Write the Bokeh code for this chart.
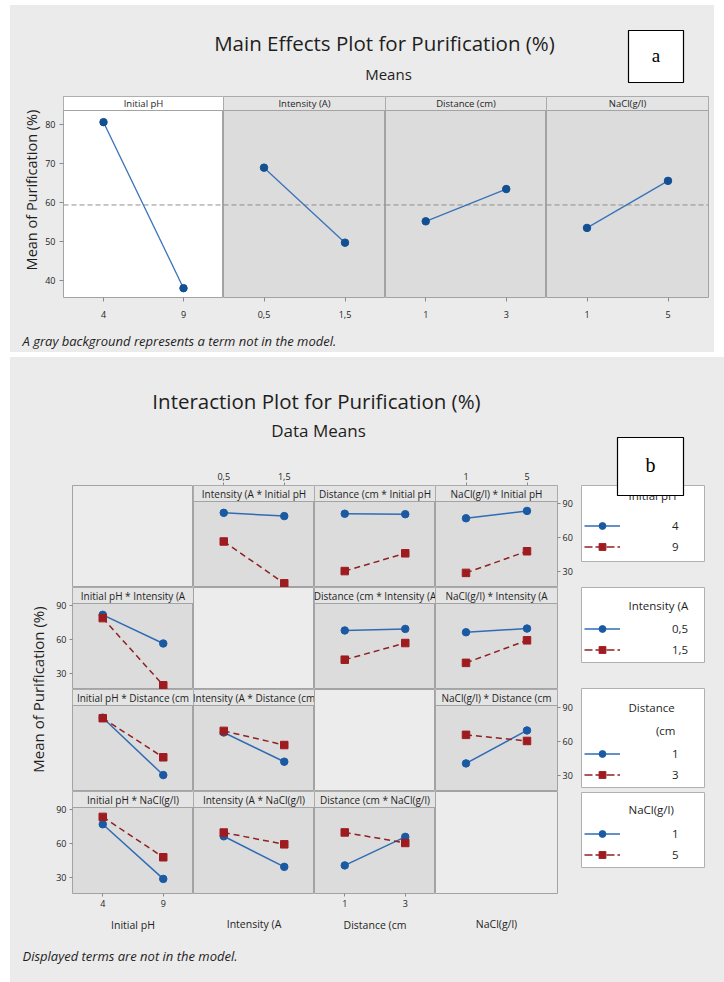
import math
import numpy as np
from bokeh.plotting import figure
from bokeh.layouts import row, column
from bokeh.models import (Range1d, LinearAxis, FixedTicker, CustomJSTickFormatter,
                          Span, BoxAnnotation, Label, Legend, LegendItem, Spacer)
from bokeh.core.properties import value
from bokeh.embed import file_html
from bokeh.resources import INLINE

# ---------------- data ----------------
main_names = ["Initial pH", "Intensity (A)", "Distance (cm)", "NaCl(g/l)"]
inter_names = ["Initial pH", "Intensity (A", "Distance (cm", "NaCl(g/l)"]
ph_levels = [4, 9]
intensity_levels = [0.5, 1.5]
distance_levels = [1, 3]
nacl_levels = [1, 5]

main_ph = [80.7, 38.0]
main_intensity = [69.0, 49.7]
main_distance = [55.2, 63.5]
main_nacl = [53.5, 65.6]
grand_mean = 59.4
main_yticks = [40, 50, 60, 70, 80]

# two-factor cell means: rows = levels of first factor, cols = levels of second factor
ph_by_intensity = [[81.8, 78.9], [56.5, 19.6]]
ph_by_distance = [[81.0, 80.6], [30.4, 46.1]]
ph_by_nacl = [[77.0, 83.5], [28.8, 47.9]]
intensity_by_distance = [[68.0, 69.4], [42.2, 56.9]]
intensity_by_nacl = [[66.4, 69.7], [39.4, 59.3]]
distance_by_nacl = [[40.7, 69.8], [65.9, 60.5]]
inter_yticks = [30, 60, 90]

legend_labels = [["4", "9"], ["0,5", "1,5"], ["1", "3"], ["1", "5"]]

levels = [ph_levels, intensity_levels, distance_levels, nacl_levels]
main_means = [main_ph, main_intensity, main_distance, main_nacl]
pair_tables = {(0, 1): ph_by_intensity, (0, 2): ph_by_distance, (0, 3): ph_by_nacl,
               (1, 2): intensity_by_distance, (1, 3): intensity_by_nacl,
               (2, 3): distance_by_nacl}

# ---------------- style ----------------
FONT = "Open Sans"
SERIF = "Liberation Serif"
TEXT = "#1e1e1e"
SEC_BG = "#ebebeb"
PANEL_GRAY = "#dcdcdc"
STRIP_GRAY = "#e4e4e4"
EMPTY_BG = "#ececec"
FRAME_LINE = "#a3a3a3"
TICK = "#8a8a8a"
MEAN_LINE = "#8f8f8f"
ME_LINE = "#3a72b8"
ME_PT = "#124f93"
BLUE_LINE = "#2f6cb4"
BLUE_PT = "#1b5aa3"
RED_LINE = "#8e2222"
RED_PT = "#9e1c20"


def comma_fmt():
    return CustomJSTickFormatter(code="return String(tick).replace('.', ',');")


def base_fig(w, h, xr, yr, left=0, right=0, top=0, bottom=0, bg=SEC_BG):
    p = figure(width=w, height=h, x_range=xr, y_range=yr,
               toolbar_location=None, output_backend="svg",
               x_axis_location=None, y_axis_location=None,
               min_border_left=left, min_border_right=right,
               min_border_top=top, min_border_bottom=bottom)
    p.grid.visible = False
    p.border_fill_color = SEC_BG
    p.background_fill_color = bg
    p.outline_line_color = None
    return p


def text_label(p, x, y, text, size, align="center", style="normal", color=TEXT,
               font=FONT, angle=0.0):
    p.add_layout(Label(x=x, y=y, text=text, text_font=font, text_font_size=size,
                       text_font_style=style, text_color=color, text_align=align,
                       text_baseline="middle", angle=angle))


def style_axis(ax, size="9px", tick_out=3, standoff=3):
    ax.major_label_text_font = FONT
    ax.major_label_text_font_size = size
    ax.major_label_text_color = TEXT
    ax.major_tick_in = 0
    ax.major_tick_out = tick_out
    ax.major_tick_line_color = TICK
    ax.minor_tick_line_color = None
    ax.axis_line_color = None
    ax.major_label_standoff = standoff
    ax.axis_label_text_font = FONT
    ax.axis_label_text_font_style = "normal"
    ax.axis_label_text_color = TEXT


def half_pad_range(lv):
    d = lv[1] - lv[0]
    return Range1d(lv[0] - d / 2, lv[1] + d / 2)


def pixel_fig(w, h):
    return base_fig(w, h, Range1d(0, w), Range1d(h, 0))


# ================= TOP SECTION: main effects =================
top_header = pixel_fig(704, 91)
text_label(top_header, 374, 37, "Main Effects Plot for Purification (%)", "20.5px")
text_label(top_header, 378, 68, "Means", "15px")
top_header.add_layout(BoxAnnotation(left=618, right=673, top=25, bottom=77,
                                    fill_color="#ffffff", fill_alpha=1,
                                    line_color="#000000", line_width=1.2, line_alpha=1))
text_label(top_header, 645.5, 50, "a", "19px", font=SERIF, color="#000000")

ylab_top = pixel_fig(32, 230)
text_label(ylab_top, 21, 107, "Mean of Purification (%)", "14.5px", angle=math.pi / 2)

ME_LO, ME_HI = 35.6, 83.7
ME_FRAME_H, ME_STRIP_PX = 201, 14
ME_TOP = ME_HI + (ME_HI - ME_LO) * ME_STRIP_PX / (ME_FRAME_H - ME_STRIP_PX)
me_frame_w = [161, 162, 161, 162]

main_figs = []
for i in range(4):
    left = 20 if i == 0 else 0
    right = 6 if i == 3 else 0
    xr = half_pad_range(levels[i])
    yr = Range1d(ME_LO, ME_TOP)
    white = (i == 0)
    p = base_fig(me_frame_w[i] + left + right, 230, xr, yr, left, right, 0, 29,
                 bg="#ffffff" if white else PANEL_GRAY)
    p.outline_line_color = FRAME_LINE
    p.add_layout(BoxAnnotation(bottom=ME_HI, fill_color="#ffffff" if white else STRIP_GRAY,
                               fill_alpha=1, line_color=FRAME_LINE, line_width=1, line_alpha=1))
    text_label(p, (xr.start + xr.end) / 2, (ME_HI + ME_TOP) / 2, main_names[i], "9.5px")
    p.add_layout(Span(location=grand_mean, dimension="width", line_color=MEAN_LINE,
                      line_dash="5 3", line_width=1, level="underlay"))
    p.line(levels[i], main_means[i], line_color=ME_LINE, line_width=1.3)
    p.scatter(levels[i], main_means[i], marker="circle", size=7.5,
              fill_color=ME_PT, line_color=ME_PT)
    xa = LinearAxis(ticker=FixedTicker(ticks=levels[i]), formatter=comma_fmt())
    style_axis(xa, tick_out=4, standoff=9)
    p.add_layout(xa, "below")
    if i == 0:
        ya = LinearAxis(ticker=FixedTicker(ticks=main_yticks))
        style_axis(ya, tick_out=4, standoff=4)
        p.add_layout(ya, "left")
    main_figs.append(p)

top_footer = pixel_fig(704, 26)
text_label(top_footer, 12, 14, "A gray background represents a term not in the model.",
           "13px", align="left", style="italic")

top_section = column(top_header, row(ylab_top, *main_figs), top_footer,
                     styles={"background-color": SEC_BG})

# ================= BOTTOM SECTION: interaction =================
bot_header = pixel_fig(568, 108)
text_label(bot_header, 306, 43, "Interaction Plot for Purification (%)", "20.5px")
text_label(bot_header, 308, 73, "Data Means", "17px")

ylab_bot = pixel_fig(40, 473)
text_label(ylab_bot, 27, 224, "Mean of Purification (%)", "15px", angle=math.pi / 2)

INT_LO, INT_HI = 15.9, 91.8
INT_FRAME_H, INT_STRIP_PX = 102, 16
INT_TOP = INT_HI + (INT_HI - INT_LO) * INT_STRIP_PX / (INT_FRAME_H - INT_STRIP_PX)


def cell_means(trace, xf):
    if trace < xf:
        t = pair_tables[(trace, xf)]
        return t[0], t[1]
    t = pair_tables[(xf, trace)]
    return [t[0][0], t[1][0]], [t[0][1], t[1][1]]


grid_rows = []
for r in range(4):
    cells = []
    for c in range(4):
        fw = 122 if c == 3 else 121
        left = 22 if c == 0 else 0
        right = 21 if c == 3 else 0
        top = 20 if r == 0 else 0
        bottom = 45 if r == 3 else 0
        xr = half_pad_range(levels[c])
        yr = Range1d(INT_LO, INT_TOP)
        p = base_fig(fw + left + right, INT_FRAME_H + top + bottom, xr, yr,
                     left, right, top, bottom,
                     bg=EMPTY_BG if r == c else PANEL_GRAY)
        p.outline_line_color = FRAME_LINE
        if r != c:
            p.add_layout(BoxAnnotation(bottom=INT_HI, fill_color=STRIP_GRAY, fill_alpha=1,
                                       line_color=FRAME_LINE, line_width=1, line_alpha=1))
            text_label(p, (xr.start + xr.end) / 2, (INT_HI + INT_TOP) / 2,
                       f"{inter_names[c]} * {inter_names[r]}", "10px")
            lo_vals, hi_vals = cell_means(r, c)
            p.line(levels[c], lo_vals, line_color=BLUE_LINE, line_width=1.5)
            p.scatter(levels[c], lo_vals, marker="circle", size=7.5,
                      fill_color=BLUE_PT, line_color=BLUE_PT)
            p.line(levels[c], hi_vals, line_color=RED_LINE, line_width=1.5, line_dash="6 4")
            p.scatter(levels[c], hi_vals, marker="square", size=7.5,
                      fill_color=RED_PT, line_color=RED_PT)
        if r == 0 and c in (1, 3):
            ax = LinearAxis(ticker=FixedTicker(ticks=levels[c]), formatter=comma_fmt())
            style_axis(ax)
            p.add_layout(ax, "above")
        if r == 3:
            if c in (0, 2):
                ax = LinearAxis(ticker=FixedTicker(ticks=levels[c]), formatter=comma_fmt(),
                                axis_label=inter_names[c])
                style_axis(ax)
                ax.axis_label_standoff = 8
            else:
                ax = LinearAxis(ticker=FixedTicker(ticks=[]), axis_label=inter_names[c])
                style_axis(ax, tick_out=0, standoff=0)
                ax.axis_label_standoff = 23
            ax.axis_label_text_font_size = "10.5px"
            p.add_layout(ax, "below")
        if c == 0 and r in (1, 3):
            ax = LinearAxis(ticker=FixedTicker(ticks=inter_yticks))
            style_axis(ax)
            p.add_layout(ax, "left")
        if c == 3 and r in (0, 2):
            ax = LinearAxis(ticker=FixedTicker(ticks=inter_yticks))
            style_axis(ax, standoff=2)
            p.add_layout(ax, "right")
        cells.append(p)
    grid_rows.append(row(*cells))

grid = column(*grid_rows)

bot_footer = pixel_fig(568, 44)
text_label(bot_footer, 12, 17, "Displayed terms are not in the model.", "13px",
           align="left", style="italic")

# ---------------- legend column ----------------
leg = pixel_fig(146, 625)
nan_pt = np.array([np.nan])
bl = leg.line(x=nan_pt, y=nan_pt, line_color=BLUE_LINE, line_width=1.5)
bs = leg.scatter(x=nan_pt, y=nan_pt, marker="circle", size=7, fill_color=BLUE_PT,
                 line_color=BLUE_PT)
rl = leg.line(x=nan_pt, y=nan_pt, line_color=RED_LINE, line_width=1.5, line_dash="8 3")
rs = leg.scatter(x=nan_pt, y=nan_pt, marker="square", size=7, fill_color=RED_PT,
                 line_color=RED_PT)

box_tb = [(128, 204), (230, 305), (331, 430), (435, 510)]
for (t, b) in box_tb:
    leg.add_layout(BoxAnnotation(left=3, right=126, top=t, bottom=b, fill_color="#ffffff",
                                 fill_alpha=1, line_color="#b0b0b0", line_width=1, line_alpha=1))

leg_titles = [("Initial pH", 50, 138, "left"), ("Intensity (A", 50, 248, "left"),
              ("Distance", 50, 350, "left"), ("(cm", 97, 373, "right"),
              ("NaCl(g/l)", 50, 452, "left")]
for (txt, x, y, al) in leg_titles:
    text_label(leg, x, y, txt, "11.5px", align=al)

leg_loc_y = [426, 323, 198, 118]
for k in range(4):
    lg = Legend(items=[LegendItem(label=value(legend_labels[k][0]), renderers=[bl, bs]),
                       LegendItem(label=value(legend_labels[k][1]), renderers=[rl, rs])],
                location=(6, leg_loc_y[k]), padding=0, spacing=1, margin=0,
                glyph_width=36, glyph_height=17, label_height=20, label_width=10,
                label_standoff=52, border_line_alpha=0, background_fill_alpha=0,
                label_text_font=FONT, label_text_font_size="11.5px",
                label_text_color=TEXT)
    leg.add_layout(lg)

leg.add_layout(BoxAnnotation(left=39, right=105, top=80, bottom=138, fill_color="#ffffff",
                             fill_alpha=1, line_color="#000000", line_width=1.2, line_alpha=1))
text_label(leg, 72, 107, "b", "20px", font=SERIF, color="#000000")

bottom_left = column(bot_header, row(ylab_bot, grid), bot_footer)
bottom_section = row(bottom_left, leg, styles={"background-color": SEC_BG})

page = column(Spacer(width=724, height=5),
              row(Spacer(width=10, height=347), top_section),
              Spacer(width=724, height=5),
              row(Spacer(width=10, height=625), bottom_section))

open("out.html", "w").write(file_html(page, INLINE, title="Main effects and interaction plots"))
